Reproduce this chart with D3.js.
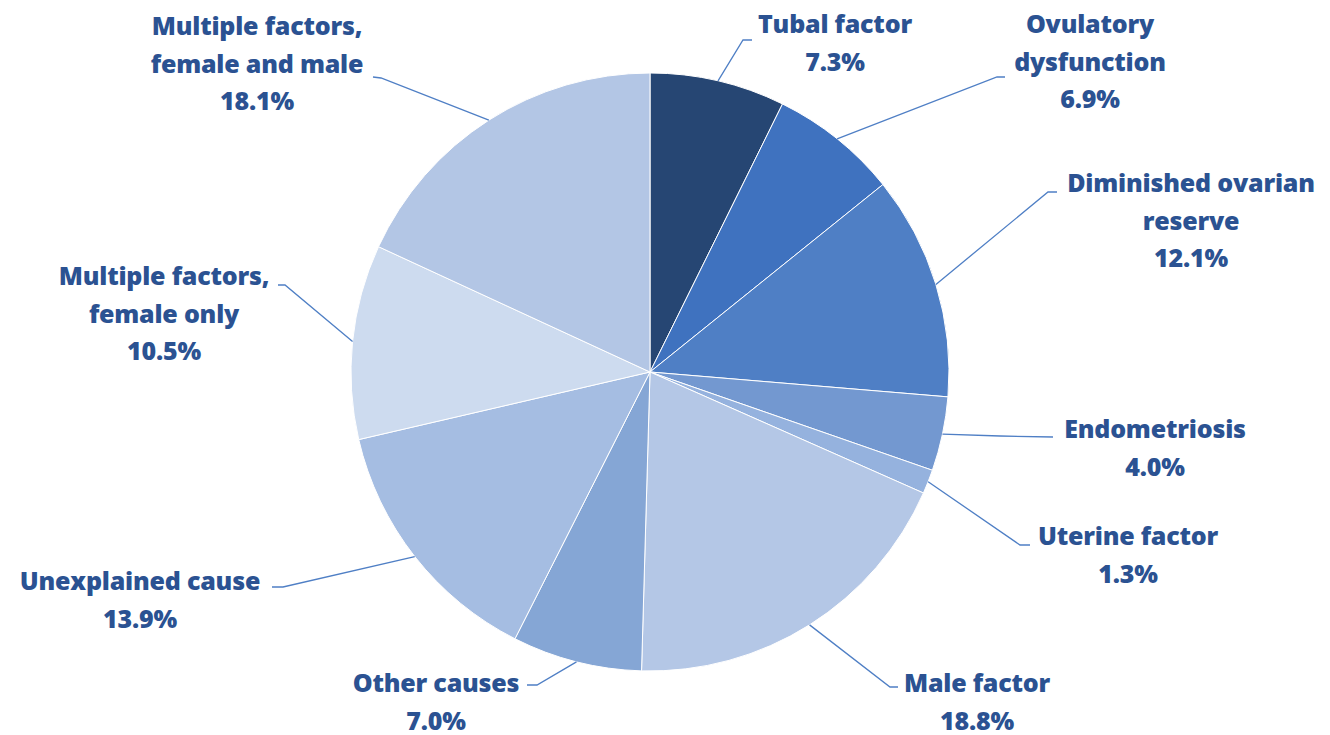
<!DOCTYPE html>
<html>
<head>
<meta charset="utf-8">
<script src="https://cdn.jsdelivr.net/npm/d3@7"></script>
<style>
  body { margin: 0; background: #fff; }
  svg text { font-family: "Open Sans", sans-serif; font-weight: 800; fill: #2b5292; }
</style>
</head>
<body>
<svg id="pie" width="1330" height="735"></svg>
<script>
// slice data, clockwise from 12 o'clock
var categories = ["Tubal factor", "Ovulatory dysfunction", "Diminished ovarian reserve", "Endometriosis",
                  "Uterine factor", "Male factor", "Other causes", "Unexplained cause",
                  "Multiple factors, female only", "Multiple factors, female and male"];
var values = [7.3, 6.9, 12.1, 4.0, 1.3, 18.8, 7.0, 13.9, 10.5, 18.1];
var labelLines = [
  ["Tubal factor"], ["Ovulatory", "dysfunction"], ["Diminished ovarian", "reserve"], ["Endometriosis"],
  ["Uterine factor"], ["Male factor"], ["Other causes"], ["Unexplained cause"],
  ["Multiple factors,", "female only"], ["Multiple factors,", "female and male"]
];
var colors = ["#264673", "#3f72bf", "#4f7fc5", "#7398d0", "#95b2de",
              "#b4c7e6", "#85a6d5", "#a5bde2", "#cddbef", "#b3c6e5"];

// label placement: text centre x, first baseline, leader elbow and tip
var labelPos = [
  { x: 835,  y: 33,  elbow: [743, 40],  tip: [752, 40] },
  { x: 1090, y: 33,  elbow: [997, 77],  tip: [1005, 77] },
  { x: 1191, y: 192, elbow: [1048, 192], tip: [1057, 192] },
  { x: 1155, y: 438, elbow: [1000, 436], tip: [1053, 437] },
  { x: 1128, y: 545, elbow: [1020, 545], tip: [1030, 545] },
  { x: 977,  y: 692, elbow: [890, 687], tip: [898, 687] },
  { x: 436,  y: 692, elbow: [537, 685], tip: [527, 685] },
  { x: 140,  y: 590, elbow: [283, 587], tip: [272, 587] },
  { x: 164,  y: 285, elbow: [285, 285], tip: [278, 285] },
  { x: 257,  y: 35,  elbow: [381, 78],  tip: [373, 77] }
];

var cx = 650, cy = 372, radius = 299, lineGap = 37.5;

var svg = d3.select("#pie");
var g = svg.append("g").attr("transform", "translate(" + cx + "," + cy + ")");

var pie = d3.pie().sort(null).value(function(d) { return d; });
var arcs = pie(values);

var arc = d3.arc().innerRadius(0).outerRadius(radius);

g.selectAll("path.slice")
  .data(arcs)
  .enter().append("path")
    .attr("class", "slice")
    .attr("d", arc)
    .attr("fill", function(d, i) { return colors[i]; })
    .attr("stroke", "#ffffff")
    .attr("stroke-width", 1);

// leader lines, from the slice edge at its mid angle
var line = d3.line();
svg.selectAll("path.leader")
  .data(arcs)
  .enter().append("path")
    .attr("class", "leader")
    .attr("fill", "none")
    .attr("stroke", "#4f7fc5")
    .attr("stroke-width", 1.3)
    .attr("d", function(d, i) {
      var a = (d.startAngle + d.endAngle) / 2;
      var p0 = [cx + Math.sin(a) * radius, cy - Math.cos(a) * radius];
      var lp = labelPos[i];
      return line([p0, lp.elbow, lp.tip]);
    });

// labels
var labels = svg.selectAll("text.lbl")
  .data(arcs)
  .enter().append("text")
    .attr("class", "lbl")
    .attr("text-anchor", "middle")
    .style("font-size", "25px")
    .style("letter-spacing", "-0.2px");

labels.each(function(d, i) {
  var t = d3.select(this);
  var lp = labelPos[i];
  var rows = labelLines[i].concat([d3.format(".1f")(values[i]) + "%"]);
  rows.forEach(function(r, k) {
    t.append("tspan")
      .attr("x", lp.x)
      .attr("y", lp.y + k * lineGap)
      .text(r);
  });
});
</script>
</body>
</html>
